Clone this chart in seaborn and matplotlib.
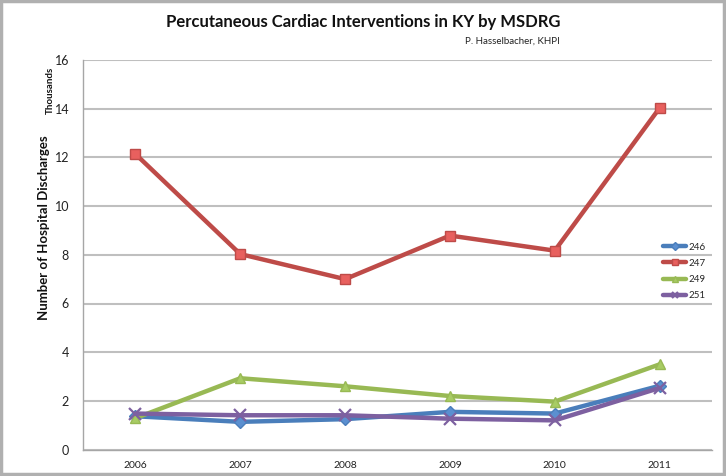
import matplotlib
matplotlib.use("Agg")
import matplotlib.pyplot as plt
import seaborn as sns
import pandas as pd

years = ["2006", "2007", "2008", "2009", "2010", "2011"]
series_names = ["246", "247", "249", "251"]
drg_246 = [1.37, 1.14, 1.25, 1.55, 1.48, 2.62]
drg_247 = [12.14, 8.03, 7.00, 8.79, 8.17, 14.03]
drg_249 = [1.29, 2.93, 2.60, 2.20, 1.97, 3.50]
drg_251 = [1.48, 1.41, 1.41, 1.27, 1.20, 2.53]
y_ticks = [0, 2, 4, 6, 8, 10, 12, 14, 16]

values = {"246": drg_246, "247": drg_247, "249": drg_249, "251": drg_251}
rows = []
for name in series_names:
    for i, v in enumerate(values[name]):
        rows.append({"pos": i, "year": years[i], "series": name, "value": v})
df = pd.DataFrame(rows)

sns.set_theme(style="white")
plt.rcParams["font.family"] = ["Lato", "DejaVu Sans"]

colors = {"246": "#4A7EBB", "247": "#BE4B48", "249": "#98B954", "251": "#7D60A0"}
markers = {"246": "D", "247": "s", "249": "^", "251": "x"}
mfaces = {"246": "#5B8FD0", "247": "#E8605E", "249": "#A8CC64", "251": "#7D60A0"}
msizes = {"246": 6.5, "247": 7.5, "249": 7.5, "251": 8}

fig = plt.figure(figsize=(7.26, 4.76), dpi=100)
fig.patch.set_facecolor("white")
ax = fig.add_axes([83/726, 1 - 449.6/476, (712-83)/726, (449.6-60)/476])

for name in series_names:
    sub = df[df["series"] == name]
    sns.lineplot(data=sub, x="pos", y="value", ax=ax, color=colors[name],
                 linewidth=3.2, marker=markers[name], markersize=msizes[name],
                 markerfacecolor=mfaces[name], markeredgecolor=colors[name],
                 markeredgewidth=1.0 if name != "251" else 1.6,
                 label=name, zorder=3)

ax.set_xlim(-0.5, len(years) - 0.5)
ax.set_ylim(0, 16)
ax.set_yticks(y_ticks)
ax.set_yticklabels([str(t) for t in y_ticks], fontsize=9, color="#222222")
ax.set_xticks(range(len(years)))
ax.set_xticklabels(years, fontsize=7.5, color="#222222")
ax.set_xticks([i + 0.5 for i in range(-1, len(years))], minor=True)
ax.tick_params(axis="x", which="major", length=0, pad=8)
ax.tick_params(axis="x", which="minor", length=4, color="#A6A6A6", width=1)
ax.tick_params(axis="y", which="major", length=4, color="#A6A6A6", width=1, pad=6)
ax.grid(axis="y", color="#BFBFBF", linewidth=1.5, zorder=0)
ax.set_axisbelow(True)
for s in ["top", "right"]:
    ax.spines[s].set_visible(False)
for s in ["left", "bottom"]:
    ax.spines[s].set_color("#A6A6A6")
    ax.spines[s].set_linewidth(1)
ax.set_xlabel("")
ax.set_ylabel("")

fig.text(363/726, 1 - 22/476, "Percutaneous Cardiac Interventions in KY by MSDRG",
         ha="center", va="center", fontsize=12, fontweight="bold", color="#111111")
fig.text(560/726, 1 - 41/476, "P. Hasselbacher, KHPI", ha="right", va="center",
         fontsize=7, color="#222222")
fig.text(44/726, 1 - 228/476, "Number of Hospital Discharges", rotation=90,
         ha="center", va="center", fontsize=9.5, fontweight="bold", color="#111111")
fig.text(50/726, 1 - 90/476, "Thousands", rotation=90, ha="center", va="center",
         fontsize=7, fontweight="bold", color="#111111")

ax.legend(loc="center left", bbox_to_anchor=(659/726, 1 - 271.5/476),
          bbox_transform=fig.transFigure, frameon=False, fontsize=7,
          handlelength=2.4, handletextpad=0.2, labelspacing=0.75,
          borderaxespad=0, markerscale=0.6)

border = plt.Rectangle((0.002, 0.004), 0.995, 0.993, transform=fig.transFigure,
                       fill=False, edgecolor="#B0B0B0", linewidth=2.5)
fig.patches.append(border)

fig.savefig("out.png", dpi=100)
